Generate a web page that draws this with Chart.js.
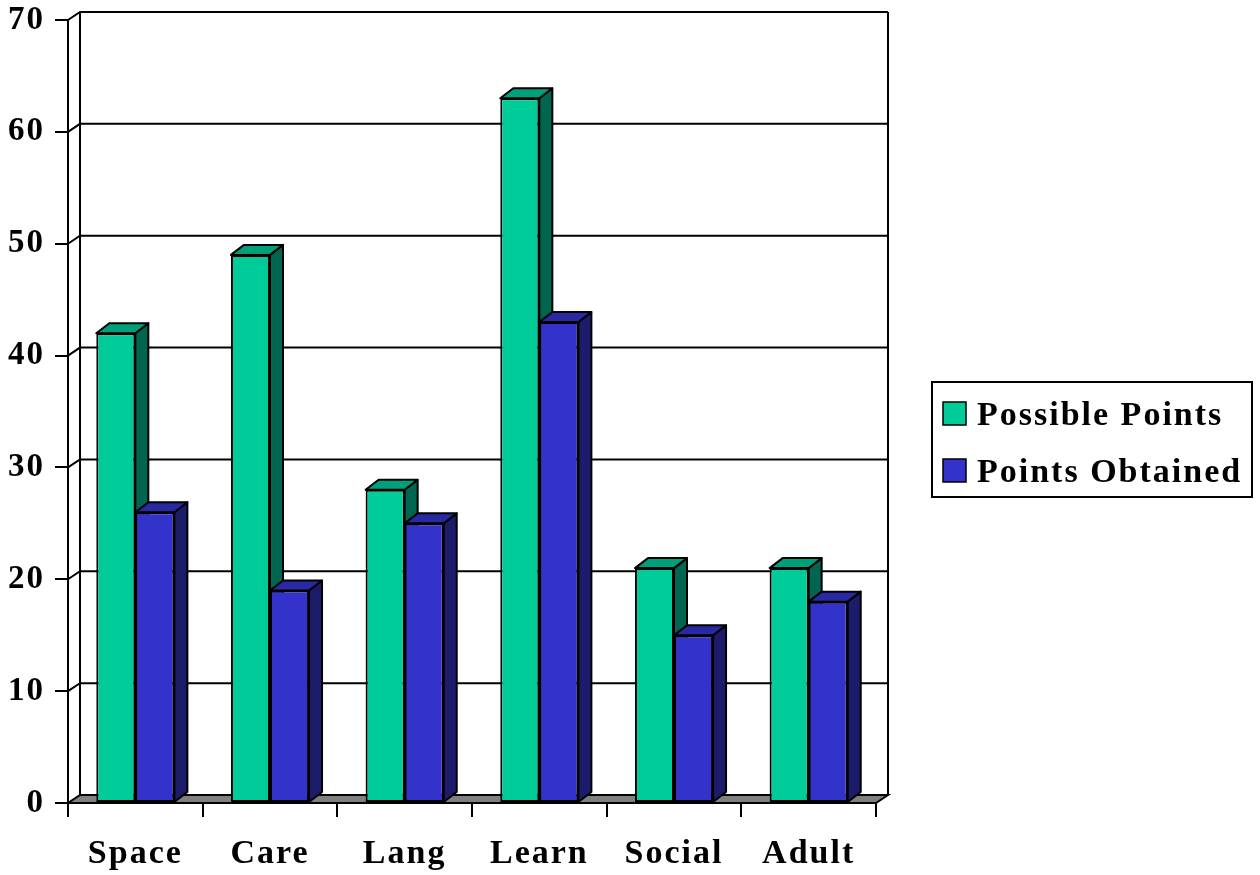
<!DOCTYPE html>
<html lang="en">
<head>
<meta charset="UTF-8">
<title>Possible vs Obtained Points</title>
<style>
  body { margin: 0; background: #fff; }
  .wrap { width: 1260px; height: 875px; position: relative; }
</style>
</head>
<body>
<div class="wrap"><canvas id="chart"></canvas></div>
<script src="https://cdn.jsdelivr.net/npm/chart.js"></script>
<script>
const categories = ['Space', 'Care', 'Lang', 'Learn', 'Social', 'Adult'];
const possiblePoints = [42, 49, 28, 63, 21, 21];
const pointsObtained = [26, 19, 25, 43, 15, 18];
const seriesNames = ['Possible Points', 'Points Obtained'];
const yMax = 70, yStep = 10;

const FONT = "'Liberation Serif', 'Times New Roman', serif";
const WALL = { dx: 12, dy: -8 };   // depth of the back wall
const BAR = { dx: 13, dy: -10 };   // depth of each bar

const frontCol = ['#00cc99', '#3333cc'];
const topCol = ['#00a07a', '#2929a3'];
const sideCol = ['#006650', '#1c1c6a'];

function poly(ctx, pts, fill) {
  ctx.beginPath();
  ctx.moveTo(pts[0][0], pts[0][1]);
  for (let i = 1; i < pts.length; i++) ctx.lineTo(pts[i][0], pts[i][1]);
  ctx.closePath();
  if (fill) { ctx.fillStyle = fill; ctx.fill(); }
  ctx.stroke();
}

// side + top faces of the bars of one dataset
function drawDepth(chart, di) {
  const ctx = chart.ctx;
  ctx.save();
  ctx.lineWidth = 2;
  ctx.strokeStyle = '#000';
  ctx.lineJoin = 'round';
  chart.getDatasetMeta(di).data.forEach(bar => {
    const { x, y, base, width } = bar.getProps(['x', 'y', 'base', 'width'], true);
    const l = x - width / 2, r = x + width / 2;
    poly(ctx, [[r, y], [r + BAR.dx, y + BAR.dy], [r + BAR.dx, base + BAR.dy], [r, base]], sideCol[di]);
    poly(ctx, [[l, y], [l + BAR.dx, y + BAR.dy], [r + BAR.dx, y + BAR.dy], [r, y]], topCol[di]);
  });
  ctx.restore();
}

const box3d = {
  id: 'box3d',
  beforeDraw(chart) {
    chart.ctx.letterSpacing = '2px';
  },
  beforeDatasetsDraw(chart) {
    const { ctx, chartArea: a, scales: { y } } = chart;
    ctx.save();
    ctx.lineWidth = 2;
    ctx.strokeStyle = '#000';
    // floor
    poly(ctx, [[a.left, a.bottom], [a.right, a.bottom],
      [a.right + WALL.dx, a.bottom + WALL.dy], [a.left + WALL.dx, a.bottom + WALL.dy]], '#808080');
    // gridlines on side + back wall
    for (let v = yStep; v <= yMax; v += yStep) {
      const py = y.getPixelForValue(v);
      ctx.beginPath();
      ctx.moveTo(a.left, py);
      ctx.lineTo(a.left + WALL.dx, py + WALL.dy);
      ctx.lineTo(a.right + WALL.dx, py + WALL.dy);
      ctx.stroke();
    }
    ctx.beginPath();
    ctx.moveTo(a.left + WALL.dx, a.top + WALL.dy);
    ctx.lineTo(a.left + WALL.dx, a.bottom + WALL.dy);
    ctx.moveTo(a.right + WALL.dx, a.top + WALL.dy);
    ctx.lineTo(a.right + WALL.dx, a.bottom + WALL.dy);
    ctx.stroke();
    ctx.restore();
    // first series' depth goes under the second series' front
    drawDepth(chart, 0);
  },
  afterDatasetsDraw(chart) {
    drawDepth(chart, 1);
  },
  afterDraw(chart) {
    // legend box
    const ctx = chart.ctx;
    const bx = 932, by = 382, bw = 320, bh = 115;
    ctx.save();
    ctx.lineWidth = 2;
    ctx.strokeStyle = '#000';
    ctx.strokeRect(bx, by, bw, bh);
    ctx.font = 'bold 34px ' + FONT;
    ctx.textBaseline = 'alphabetic';
    ctx.textAlign = 'left';
    ctx.letterSpacing = '2px';
    chart.data.datasets.forEach((ds, i) => {
      const rowY = by + 43 + i * 57;
      ctx.lineWidth = 1.5;
      ctx.fillStyle = ds.backgroundColor;
      ctx.fillRect(bx + 11, rowY - 23, 23, 23);
      ctx.strokeRect(bx + 11, rowY - 23, 23, 23);
      ctx.fillStyle = '#000';
      ctx.fillText(ds.label, bx + 45, rowY);
    });
    ctx.restore();
  }
};

Chart.defaults.font.family = FONT;
Chart.defaults.font.weight = 'bold';
Chart.defaults.font.size = 34;
Chart.defaults.color = '#000';

new Chart(document.getElementById('chart'), {
  type: 'bar',
  data: {
    labels: categories,
    datasets: [
      { label: seriesNames[0], data: possiblePoints, backgroundColor: frontCol[0] },
      { label: seriesNames[1], data: pointsObtained, backgroundColor: frontCol[1] }
    ]
  },
  options: {
    responsive: true,
    maintainAspectRatio: false,
    animation: false,
    events: [],
    layout: { padding: { left: 0, top: 20, right: 384, bottom: 0 } },
    datasets: {
      bar: {
        categoryPercentage: 0.58,
        barPercentage: 1.0,
        borderColor: '#000',
        borderWidth: 2,
        borderSkipped: false
      }
    },
    scales: {
      x: {
        afterFit: s => { s.height = 72; s.paddingLeft = 0; s.paddingRight = 0; },
        grid: { drawOnChartArea: false, color: '#000', lineWidth: 2, tickLength: 14, offset: true },
        border: { color: '#000', width: 2 },
        ticks: { padding: 17, maxRotation: 0 }
      },
      y: {
        min: 0,
        max: yMax,
        afterFit: s => { s.width = 68; s.paddingTop = 0; s.paddingBottom = 0; },
        grid: { drawOnChartArea: false, color: '#000', lineWidth: 2, tickLength: 13 },
        border: { color: '#000', width: 2 },
        ticks: { stepSize: yStep, padding: 10, font: { size: 33 } }
      }
    },
    plugins: {
      legend: { display: false },
      tooltip: { enabled: false }
    }
  },
  plugins: [box3d]
});
</script>
</body>
</html>
